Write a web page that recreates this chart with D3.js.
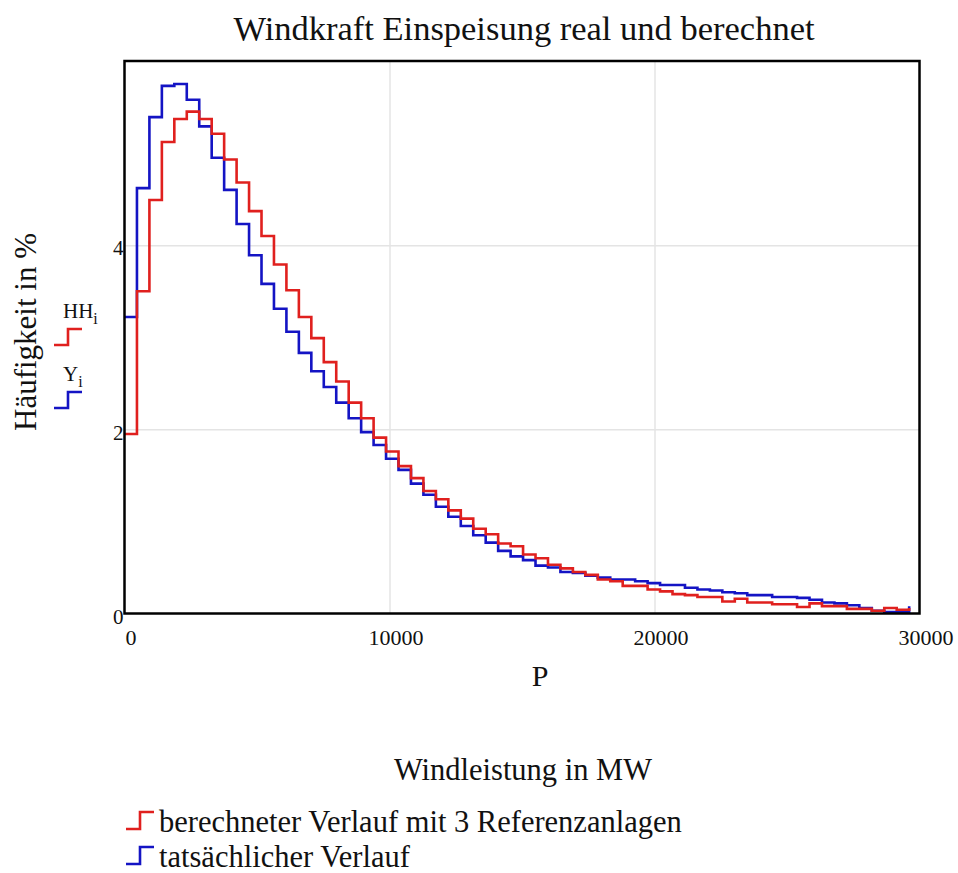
<!DOCTYPE html>
<html>
<head>
<meta charset="utf-8">
<script src="https://cdn.jsdelivr.net/npm/d3@7"></script>
<style>
	body { margin: 0; background: #fff; }
	text { font-family: "Liberation Serif", "DejaVu Serif", serif; fill: #111; }
</style>
</head>
<body>
<svg id="chart"></svg>
<script>
'use strict';

// bin width of the power classes (MW), P_i = i * BIN_MW
var BIN_MW = 470;

// berechneter Verlauf (HH_i), in %
var hhValues = [
	1.95, 3.50, 4.49, 5.12, 5.37, 5.45, 5.37, 5.21, 4.93, 4.68,
	4.37, 4.10, 3.79, 3.51, 3.22, 2.99, 2.73, 2.52, 2.29, 2.12,
	1.91, 1.76, 1.60, 1.47, 1.33, 1.24, 1.12, 1.03, 0.92, 0.86,
	0.76, 0.73, 0.64, 0.60, 0.53, 0.49, 0.45, 0.42, 0.37, 0.35,
	0.30, 0.30, 0.26, 0.24, 0.21, 0.20, 0.18, 0.18, 0.13, 0.16,
	0.12, 0.12, 0.10, 0.10, 0.07, 0.11, 0.08, 0.08, 0.05, 0.05,
	0.03, 0.06, 0.04, 0.06
];

// tatsächlicher Verlauf (Y_i), in %
var yValues = [
	3.22, 4.62, 5.39, 5.73, 5.75, 5.58, 5.29, 4.95, 4.60, 4.23,
	3.89, 3.58, 3.31, 3.06, 2.83, 2.63, 2.46, 2.29, 2.12, 1.97,
	1.83, 1.68, 1.56, 1.41, 1.29, 1.16, 1.05, 0.95, 0.85, 0.77,
	0.68, 0.62, 0.58, 0.52, 0.50, 0.45, 0.44, 0.41, 0.39, 0.37,
	0.37, 0.35, 0.33, 0.31, 0.31, 0.28, 0.26, 0.25, 0.23, 0.22,
	0.20, 0.20, 0.18, 0.18, 0.17, 0.15, 0.12, 0.11, 0.09, 0.06,
	0.03, 0.015, 0.015, 0.08
];

var xTicks = [0, 10000, 20000, 30000];
var yTicks = [0, 2, 4];

var WIDTH = 958,
	HEIGHT = 873;

var red = '#e0201e',
	blue = '#1414c4';

var svg = d3.select('#chart')
	.attr('width', WIDTH)
	.attr('height', HEIGHT);

var x = d3.scaleLinear().domain([0, 30000]).range([124.5, 919.5]);
var y = d3.scaleLinear().domain([0, 6]).range([613.5, 61]);

// title
svg.append('text')
	.attr('x', 524)
	.attr('y', 40)
	.style('text-anchor', 'middle')
	.style('font-size', '34.5px')
	.text('Windkraft Einspeisung real und berechnet');

// grid
svg.append('g')
	.attr('transform', 'translate(0,' + y(0) + ')')
	.call(d3.axisBottom(x).tickValues([10000, 20000]).tickSize(-(y(0) - y(6))).tickFormat(''))
	.call(function (g) { g.select('.domain').remove(); })
	.selectAll('line').style('stroke', '#e4e4e4').style('stroke-width', 1.5);

svg.append('g')
	.attr('transform', 'translate(' + x(0) + ',0)')
	.call(d3.axisLeft(y).tickValues([2, 4]).tickSize(-(x(30000) - x(0))).tickFormat(''))
	.call(function (g) { g.select('.domain').remove(); })
	.selectAll('line').style('stroke', '#e4e4e4').style('stroke-width', 1.5);

// tick labels
var xAxis = svg.append('g')
	.attr('transform', 'translate(6,' + (y(0) + 13) + ')')
	.call(d3.axisBottom(x).tickValues(xTicks).tickSize(0).tickFormat(d3.format('d')));
xAxis.select('.domain').remove();
xAxis.selectAll('text')
	.style('font-family', '"Liberation Serif", serif')
	.style('font-size', '22px')
	.style('fill', '#111');

var yAxis = svg.append('g')
	.attr('transform', 'translate(' + (x(0) + 1) + ',3)')
	.call(d3.axisLeft(y).tickValues(yTicks).tickSize(0).tickPadding(2).tickFormat(d3.format('d')));
yAxis.select('.domain').remove();
yAxis.selectAll('text')
	.style('font-family', '"Liberation Serif", serif')
	.style('font-size', '21px')
	.style('fill', '#111');

// step lines
var P = hhValues.map(function (d, i) { return i * BIN_MW; });

var stepLine = d3.line()
	.x(function (d) { return x(d[0]); })
	.y(function (d) { return y(d[1]); })
	.curve(d3.curveStepAfter);

svg.append('path')
	.datum(d3.zip(P, yValues))
	.attr('d', stepLine)
	.style('fill', 'none')
	.style('stroke', blue)
	.style('stroke-width', 2.6);

svg.append('path')
	.datum(d3.zip(P, hhValues))
	.attr('d', stepLine)
	.style('fill', 'none')
	.style('stroke', red)
	.style('stroke-width', 2.6);

// frame
svg.append('rect')
	.attr('x', x(0))
	.attr('y', y(6))
	.attr('width', x(30000) - x(0))
	.attr('height', y(0) - y(6))
	.style('fill', 'none')
	.style('stroke', '#000')
	.style('stroke-width', 2.5);

// y axis title
svg.append('text')
	.attr('transform', 'translate(36,332) rotate(-90)')
	.style('text-anchor', 'middle')
	.style('font-size', '31px')
	.text('Häufigkeit in %');

// small step symbol used in both legends
function stepIcon(x0, yTop, w, h) {
	return 'M' + x0 + ',' + (yTop + h) + 'H' + (x0 + w / 2) + 'V' + yTop + 'H' + (x0 + w);
}

// trace names left of the plot
var traceLegend = [
	{ name: 'HH', color: red, ty: 318 },
	{ name: 'Y', color: blue, ty: 381 }
];

traceLegend.forEach(function (d) {
	var t = svg.append('text')
		.attr('x', 63)
		.attr('y', d.ty)
		.style('font-size', '21px');
	t.append('tspan').text(d.name);
	t.append('tspan')
		.attr('dy', 6)
		.style('font-size', '16px')
		.text('i');
	svg.append('path')
		.attr('d', stepIcon(54, d.ty + 11, 28, 16))
		.style('fill', 'none')
		.style('stroke', d.color)
		.style('stroke-width', 2.6);
});

// x axis titles
svg.append('text')
	.attr('x', 540)
	.attr('y', 686)
	.style('text-anchor', 'middle')
	.style('font-size', '30px')
	.text('P');

svg.append('text')
	.attr('x', 523)
	.attr('y', 780)
	.style('text-anchor', 'middle')
	.style('font-size', '30.5px')
	.text('Windleistung in MW');

// bottom legend
var bottomLegend = [
	{ name: 'berechneter Verlauf mit 3 Referenzanlagen', color: red, ty: 832 },
	{ name: 'tatsächlicher Verlauf', color: blue, ty: 867 }
];

bottomLegend.forEach(function (d) {
	svg.append('path')
		.attr('d', stepIcon(126, d.ty - 20, 28, 17))
		.style('fill', 'none')
		.style('stroke', d.color)
		.style('stroke-width', 2.6);
	svg.append('text')
		.attr('x', 159)
		.attr('y', d.ty)
		.style('font-size', '30.5px')
		.text(d.name);
});
</script>
</body>
</html>
